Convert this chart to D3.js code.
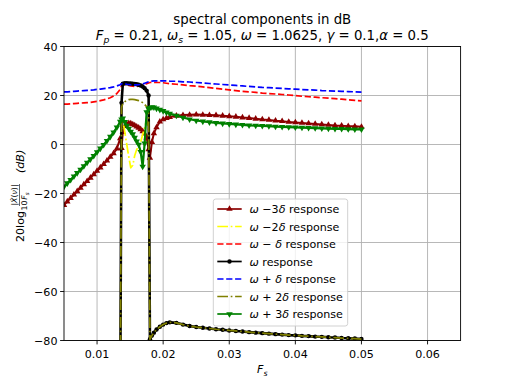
<!DOCTYPE html>
<html><head><meta charset="utf-8">
<script src="https://cdn.jsdelivr.net/npm/d3@7"></script>
<style>body{margin:0;background:#fff}svg{font-family:"DejaVu Sans",sans-serif}</style>
</head><body>
<svg id="c" width="512" height="384"></svg>
<script>
const fs = [0.005,0.0055,0.006,0.0065,0.007,0.0075,0.008,0.0085,0.009,0.0095,0.01,0.0105,0.011,0.0115,0.012,0.0125,0.013,0.0135,
 0.0137,0.0139,0.0142,0.0145,0.0148,0.0151,0.0154,0.0157,0.016,0.0163,0.0166,0.0169,0.0172,0.0175,0.0178,0.018,0.0183,0.0186,0.019,
 0.0195,0.02,0.0205,0.021,0.022,0.023,0.024,0.025,0.026,0.027,0.028,0.029,0.03,0.031,0.032,0.033,0.034,0.035,0.036,0.037,0.038,0.039,0.04,0.041,0.042,0.043,0.044,0.045,0.046,0.047,0.048,0.049,0.05];

const tailLow = [-74.4,-73.5,-72.9,-72.6,-72.8,-73.5,-74.1,-74.5,-74.8,-75.1,-75.4,-75.6,-75.9,-76.1,-76.3,-76.6,-76.8,-77.0,-77.2,-77.4,-77.6,-77.8,-77.9,-78.1,-78.2,-78.4,-78.5,-78.7,-78.8,-79.0,-79.1,-79.2,-79.4];
const below = [-110,-110,-110,-110,-110,-110,-110,-110,-110,-110,-110,-110,-110,-110,-110,-110,-110,-110];

const wMinus3 = [-24.7,-23.3,-21.9,-20.5,-19.1,-17.7,-16.3,-15.0,-13.6,-12.2,-10.8,-9.4,-8.0,-6.6,-5.1,-3.6,-1.7,2.5,
 -1.5,5.0,7.5,8.3,8.7,8.6,8.2,7.8,7.3,6.8,6.2,5.4,4.4,2.8,-2.0,-5.5,1.0,4.5,7.0,
 9.3,10.2,10.8,11.2,11.7,12.0,12.1,12.2,12.1,12.0,11.9,11.7,11.5,11.3,11.0,10.8,10.5,10.2,10.0,9.7,9.5,9.2,9.0,8.8,8.6,8.4,8.2,8.0,7.8,7.7,7.5,7.4,7.2];
const wMinus2 = below.concat([9.0,10.0,5.0,0.0,-5.0,-9.5,-8.5,-4.5,-2.0,-1.0,1.0,4.0,7.0,10.0,6.0,-79.5,-78.0,-76.8,-75.5], tailLow);
const wMinus1 = [16.5,16.5,16.6,16.7,16.8,16.9,17.0,17.1,17.2,17.4,17.6,17.9,18.2,18.6,19.1,19.8,20.8,22.5,
 24.0,24.5,24.5,24.3,24.1,23.9,23.8,23.7,23.7,23.8,24.0,24.2,24.5,24.8,25.1,25.3,25.4,25.4,25.3,
 25.3,25.2,25.0,24.8,24.6,24.3,24.0,23.8,23.5,23.2,22.9,22.6,22.3,22.0,21.7,21.5,21.3,21.0,20.8,20.6,20.4,20.2,20.0,19.7,19.5,19.3,19.1,18.9,18.7,18.5,18.2,18.0,17.8];
const w0 = below.concat([17.0,24.8,25.0,25.0,24.9,24.9,24.8,24.7,24.6,24.4,24.1,23.7,23.0,22.0,20.0,-79.5,-78.0,-76.8,-75.5], tailLow);
const wPlus1 = [21.5,21.5,21.6,21.7,21.8,21.9,22.0,22.1,22.2,22.3,22.5,22.6,22.8,23.0,23.2,23.5,23.9,24.4,
 24.8,24.9,24.8,24.6,24.5,24.4,24.3,24.3,24.3,24.4,24.5,24.7,25.0,25.3,25.6,25.8,25.9,26.0,26.0,
 26.0,26.0,26.0,25.9,25.8,25.6,25.5,25.3,25.1,24.9,24.7,24.5,24.3,24.1,23.9,23.7,23.5,23.3,23.2,23.0,22.9,22.7,22.6,22.4,22.3,22.2,22.0,21.9,21.8,21.7,21.6,21.5,21.4];
const wPlus2 = below.concat([15.0,16.8,17.5,18.0,18.3,18.4,18.4,18.3,18.1,17.9,17.6,17.1,16.4,15.4,13.0,-79.5,-78.0,-76.8,-75.5], tailLow);
const wPlus3 = [-17.2,-15.8,-14.4,-13.0,-11.6,-10.2,-8.8,-7.4,-6.0,-4.6,-3.1,-1.6,-0.1,1.5,3.2,5.0,7.0,9.3,
 10.3,10.7,9.2,7.7,6.5,5.3,4.2,2.8,1.3,0.0,-3.0,-9.0,0.5,13.2,14.5,15.0,15.3,15.2,14.7,
 14.2,13.7,13.1,12.6,11.8,11.0,10.3,9.8,9.4,9.1,8.8,8.6,8.4,8.2,8.0,7.8,7.7,7.6,7.5,7.3,7.2,7.1,7.0,6.9,6.8,6.7,6.6,6.5,6.4,6.4,6.3,6.2,6.2];

const xTicks = [0.01,0.02,0.03,0.04,0.05,0.06];
const yTicks = [-80,-60,-40,-20,0,20,40];

const svg = d3.select("#c");
const L = 64, R = 460.6, T = 46.5, B = 340.5;
const x = d3.scaleLinear().domain([0.005,0.065]).range([L,R]);
const y = d3.scaleLinear().domain([-80,40]).range([B,T]);

svg.append("defs").append("clipPath").attr("id","clip").append("rect")
  .attr("x",L).attr("y",T).attr("width",R-L).attr("height",B-T);

const grid = svg.append("g").attr("stroke","#b0b0b0").attr("stroke-width",0.9);
xTicks.forEach(t=>grid.append("line").attr("x1",x(t)).attr("x2",x(t)).attr("y1",T).attr("y2",B));
yTicks.forEach(t=>grid.append("line").attr("y1",y(t)).attr("y2",y(t)).attr("x1",L).attr("x2",R));

const series = [
 {v:wMinus3, color:"#8b0000", dash:null, marker:"up", w:2.0},
 {v:wMinus2, color:"#ffff00", dash:"10.7,2.7,1.7,2.7", marker:null, w:1.7},
 {v:wMinus1, color:"#ff0000", dash:"6.2,2.7", marker:null, w:1.7},
 {v:w0, color:"#000000", dash:null, marker:"dot", w:2.6},
 {v:wPlus1, color:"#0000ff", dash:"6.2,2.7", marker:null, w:1.7},
 {v:wPlus2, color:"#808000", dash:"10.7,2.7,1.7,2.7", marker:null, w:1.7},
 {v:wPlus3, color:"#008000", dash:null, marker:"down", w:2.2}
];
const labels = [
 [["ω",1],[" −3",0],["δ",1],[" response",0]],
 [["ω",1],[" −2",0],["δ",1],[" response",0]],
 [["ω",1],[" − ",0],["δ",1],[" response",0]],
 [["ω",1],[" response",0]],
 [["ω",1],[" + ",0],["δ",1],[" response",0]],
 [["ω",1],[" + 2",0],["δ",1],[" response",0]],
 [["ω",1],[" + 3",0],["δ",1],[" response",0]]
];

const plot = svg.append("g").attr("clip-path","url(#clip)");
const line = d3.line().x((d,i)=>x(fs[i])).y(d=>y(d));
const tri = d3.symbol().type(d3.symbolTriangle).size(18);
function drawMarker(g, type, color, cx, cy){
  if(type==="dot") g.append("circle").attr("cx",cx).attr("cy",cy).attr("r",2.2).attr("fill",color);
  else if(type==="up") g.append("path").attr("d",tri()).attr("transform",`translate(${cx},${cy})`).attr("fill",color);
  else if(type==="down") g.append("path").attr("d",tri()).attr("transform",`translate(${cx},${cy}) rotate(180)`).attr("fill",color);
}
series.forEach(s=>{
  const p = plot.append("path").datum(s.v).attr("d",line).attr("fill","none")
    .attr("stroke",s.color).attr("stroke-width",s.w).attr("stroke-linejoin","round");
  if(s.dash) p.attr("stroke-dasharray",s.dash);
  if(s.marker){
    const mg = plot.append("g");
    s.v.forEach((v,i)=>{ if(v>-85) drawMarker(mg,s.marker,s.color,x(fs[i]),y(v)); });
  }
});

svg.append("rect").attr("x",L).attr("y",T).attr("width",R-L).attr("height",B-T)
  .attr("fill","none").attr("stroke","#000").attr("stroke-width",0.9);

const tg = svg.append("g").attr("font-size","11.1px").attr("fill","#000");
xTicks.forEach(t=>{
  tg.append("line").attr("x1",x(t)).attr("x2",x(t)).attr("y1",B).attr("y2",B+3.9).attr("stroke","#000").attr("stroke-width",0.9);
  tg.append("text").attr("x",x(t)).attr("y",B+17.5).attr("text-anchor","middle").text(d3.format(".2f")(t));
});
yTicks.forEach(t=>{
  tg.append("line").attr("x1",L-3.9).attr("x2",L).attr("y1",y(t)).attr("y2",y(t)).attr("stroke","#000").attr("stroke-width",0.9);
  tg.append("text").attr("x",L-6.5).attr("y",y(t)+4).attr("text-anchor","end").text(String(t).replace("-","−"));
});

const xl = svg.append("text").attr("x",(L+R)/2).attr("y",373).attr("text-anchor","middle").attr("font-size","11.1px");
xl.append("tspan").attr("font-style","italic").text("F");
xl.append("tspan").attr("font-style","italic").attr("font-size","7.8px").attr("dy",2.5).text("s");

const yl = svg.append("g").attr("transform","translate(0,194) rotate(-90)");
yl.append("text").attr("x",-48).attr("y",24).attr("font-size","11.1px").text("20log");
yl.append("text").attr("x",-16.5).attr("y",27).attr("font-size","7.8px").text("10");
yl.append("text").attr("x",-1).attr("y",17).attr("font-size","7.8px").attr("text-anchor","middle")
  .html('|<tspan font-style="italic">X̂</tspan>(<tspan font-style="italic">ν</tspan>)|');
yl.append("line").attr("x1",-12).attr("x2",10).attr("y1",19.5).attr("y2",19.5).attr("stroke","#000").attr("stroke-width",0.6);
yl.append("text").attr("x",-2).attr("y",27).attr("font-size","7.8px").attr("text-anchor","middle")
  .html('<tspan font-style="italic">F</tspan><tspan font-style="italic" font-size="5.5px" dy="1.5">s</tspan>');
yl.append("text").attr("x",21).attr("y",24).attr("font-size","11.1px").attr("font-style","italic").text("(dB)");

svg.append("text").attr("x",(L+R)/2).attr("y",24).attr("text-anchor","middle").attr("font-size","13.3px").text("spectral components in dB");
const t2 = svg.append("text").attr("x",(L+R)/2).attr("y",40).attr("text-anchor","middle").attr("font-size","13.3px");
const parts = [["F",1,0],["p",1,1],[" = 0.21, ",0,0],["ω",1,0],["s",1,1],[" = 1.05, ",0,0],["ω",1,0],[" = 1.0625, ",0,0],["γ",1,0],[" = 0.1,",0,0],["α",1,0],[" = 0.5",0,0]];
let sub = false;
parts.forEach(([s,it,sb])=>{
  const ts = t2.append("tspan").text(s);
  if(it) ts.attr("font-style","italic");
  if(sb){ ts.attr("font-size","9.3px").attr("dy",3); sub = true; }
  else if(sub){ ts.attr("dy",-3); sub = false; }
});

const lg = svg.append("g");
lg.append("rect").attr("x",213.3).attr("y",199).attr("width",134.4).attr("height",127).attr("rx",2.5)
  .attr("fill","#fff").attr("fill-opacity",0.8).attr("stroke","#cccccc").attr("stroke-width",0.9);
series.forEach((s,i)=>{
  const yy = 209 + i*17.5;
  const l = lg.append("line").attr("x1",217.3).attr("x2",241.7).attr("y1",yy).attr("y2",yy)
    .attr("stroke",s.color).attr("stroke-width",1.7);
  if(s.dash) l.attr("stroke-dasharray",s.dash);
  if(s.marker) drawMarker(lg,s.marker,s.color,229.5,yy);
  const tx = lg.append("text").attr("x",249.5).attr("y",yy+4).attr("font-size","11.1px");
  labels[i].forEach(([str,it])=>{ const ts=tx.append("tspan").text(str); if(it) ts.attr("font-style","italic"); });
});
</script>
</body></html>
